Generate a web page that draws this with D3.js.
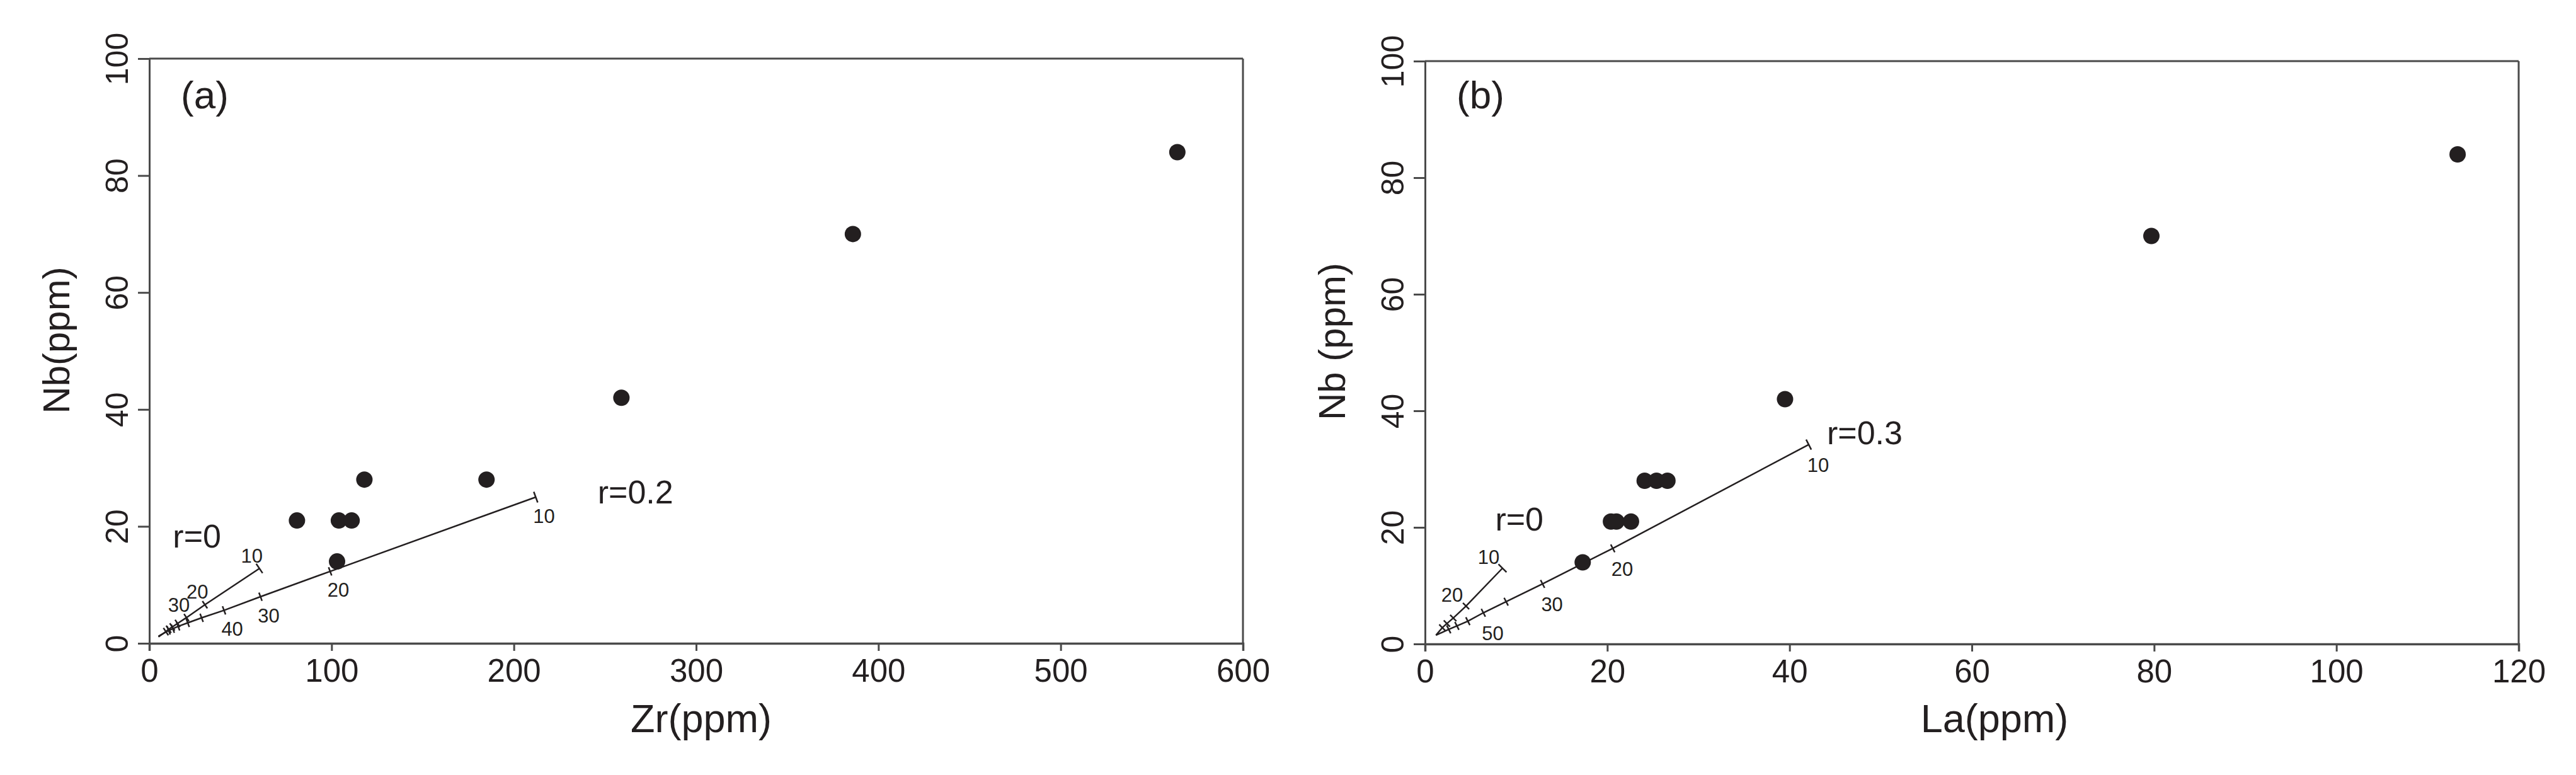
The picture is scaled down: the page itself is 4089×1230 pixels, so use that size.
<!DOCTYPE html>
<html><head><meta charset="utf-8">
<script src="https://cdn.jsdelivr.net/npm/d3@7"></script>
<style>
body{margin:0;background:#fff}
svg{display:block}
text{font-family:"Liberation Sans",Arial,Helvetica,sans-serif;fill:#231f20}
</style>
</head><body>
<svg id="chart" width="4089" height="1230"></svg>
<script>
// ---------- data ----------
const nbTicks = [0, 20, 40, 60, 80, 100];
const zrTicks = [0, 100, 200, 300, 400, 500, 600];
const laTicks = [0, 20, 40, 60, 80, 100, 120];

// panel (a) samples
const zrA = [564, 386, 259, 118, 185, 81, 104, 111, 103];
const nbA = [84, 70, 42, 28, 28, 21, 21, 21, 14];
// panel (b) samples
const laB = [113.3, 79.7, 39.5, 24.1, 25.4, 26.6, 20.4, 21.0, 22.6, 17.3];
const nbB = [84, 70, 42, 28, 28, 28, 21, 21, 21, 14];

// model curves, tick points (first point = 10 end cap, last = start)
const curveA_r0_x  = [60.4, 30.5, 20.4, 15.5, 12.6, 10.6, 9.1, 5.0];
const curveA_r0_y  = [12.8, 6.6, 4.4, 3.4, 2.8, 2.4, 2.0, 1.1];
const curveA_r0_lab = ["10", "20", "30"];
const curveA_r02_x = [212, 99.2, 61, 41, 28.7, 21.1, 15.8, 12.9, 10.6, 5.0];
const curveA_r02_y = [25.0, 12.3, 7.97, 5.64, 4.36, 3.5, 2.9, 2.5, 2.2, 1.2];
const curveA_r02_lab = ["10", "20", "30", "40"];

const curveB_r0_x  = [8.5, 4.5, 3.1, 2.4, 1.9, 1.2];
const curveB_r0_y  = [13.0, 6.5, 4.45, 3.5, 2.8, 1.5];
const curveB_r0_lab = ["10", "20"];
const curveB_r03_x = [42.1, 20.6, 12.9, 8.9, 6.4, 4.7, 3.5, 2.6, 1.2];
const curveB_r03_y = [34.2, 16.4, 10.3, 7.25, 5.35, 3.9, 3.1, 2.5, 1.5];
const curveB_r03_lab = ["10", "20", "30", "", "50"];

// ---------- layout ----------
const INK = "#231f20", AXIS = "#4a4a4a";
const svg = d3.select("#chart");

const panels = [
  {
    xDomain: [0, 600], xRange: [237, 1973], yRange: [1021, 93],
    xTicks: zrTicks, xs: zrA, ys: nbA,
    xTitle: "Zr(ppm)", xTitleX: 1113, yTitle: "Nb(ppm)", yTitleY: 540,
    tag: "(a)",
    curves: [
      {xs: curveA_r0_x, ys: curveA_r0_y, labs: curveA_r0_lab, off: [-12, -20]},
      {xs: curveA_r02_x, ys: curveA_r02_y, labs: curveA_r02_lab, off: [13, 30]}
    ],
    notes: [{t: "r=0", x: 12.9, y: 16.4}, {t: "r=0.2", x: 246, y: 23.9}]
  },
  {
    xDomain: [0, 120], xRange: [2262, 3998], yRange: [1022, 97],
    xTicks: laTicks, xs: laB, ys: nbB,
    xTitle: "La(ppm)", xTitleX: 3166, yTitle: "Nb (ppm)", yTitleY: 542,
    tag: "(b)",
    curves: [
      {xs: curveB_r0_x, ys: curveB_r0_y, labs: curveB_r0_lab, off: [-22, -17]},
      {xs: curveB_r03_x, ys: curveB_r03_y, labs: curveB_r03_lab, off: [15, 33]}
    ],
    notes: [{t: "r=0", x: 7.7, y: 19.5}, {t: "r=0.3", x: 44.1, y: 34.3}]
  }
];

panels.forEach(p => {
  const x = d3.scaleLinear().domain(p.xDomain).range(p.xRange);
  const y = d3.scaleLinear().domain([0, 100]).range(p.yRange);
  const g = svg.append("g");
  const [x0, x1] = p.xRange, [yb, yt] = p.yRange;

  // frame (top and right)
  g.append("line").attr("x1", x0).attr("x2", x1).attr("y1", yt).attr("y2", yt)
    .attr("stroke", AXIS).attr("stroke-width", 3);
  g.append("line").attr("x1", x1).attr("x2", x1).attr("y1", yt).attr("y2", yb)
    .attr("stroke", AXIS).attr("stroke-width", 3);

  // bottom axis
  const ax = g.append("g").attr("transform", `translate(0,${yb})`)
    .call(d3.axisBottom(x).tickValues(p.xTicks).tickSize(12).tickPadding(0).tickFormat(d3.format("d")));
  ax.select(".domain").attr("stroke", AXIS).attr("stroke-width", 3.5);
  ax.selectAll(".tick line").attr("stroke", AXIS).attr("stroke-width", 3);
  ax.selectAll(".tick text").attr("y", 61).attr("dy", 0)
    .attr("font-size", 51).attr("fill", INK);

  // left axis
  const ay = g.append("g").attr("transform", `translate(${x0},0)`)
    .call(d3.axisLeft(y).tickValues(nbTicks).tickSize(18).tickPadding(0).tickFormat(d3.format("d")));
  ay.select(".domain").attr("stroke", AXIS).attr("stroke-width", 3);
  ay.selectAll(".tick line").attr("stroke", AXIS).attr("stroke-width", 3);
  ay.selectAll(".tick text")
    .attr("x", null).attr("dy", null)
    .attr("transform", "translate(-34,0) rotate(-90)")
    .attr("text-anchor", "middle").attr("font-size", 50).attr("fill", INK);

  // titles
  g.append("text").attr("x", p.xTitleX).attr("y", 1162).attr("text-anchor", "middle")
    .attr("font-size", 63).text(p.xTitle);
  g.append("text").attr("transform", `translate(${x0 - 127},${p.yTitleY}) rotate(-90)`)
    .attr("text-anchor", "middle").attr("font-size", 60).text(p.yTitle);
  g.append("text").attr("x", x0 + 50).attr("y", 172).attr("font-size", 62).text(p.tag);

  // model curves
  p.curves.forEach(c => {
    const pts = c.xs.map((v, i) => [x(v), y(c.ys[i])]);
    g.append("path").attr("d", d3.line()(pts)).attr("fill", "none")
      .attr("stroke", INK).attr("stroke-width", 2.5);
    const a = pts[0], b = pts[pts.length - 1];
    const len = Math.hypot(a[0] - b[0], a[1] - b[1]);
    const nx = -(a[1] - b[1]) / len, ny = (a[0] - b[0]) / len;
    pts.slice(0, pts.length - 1).forEach((q, i) => {
      const h = i === 0 ? 9 : 7;
      g.append("line").attr("x1", q[0] - nx * h).attr("y1", q[1] - ny * h)
        .attr("x2", q[0] + nx * h).attr("y2", q[1] + ny * h)
        .attr("stroke", INK).attr("stroke-width", 2.5);
    });
    c.labs.forEach((t, i) => {
      if (!t) return;
      g.append("text").attr("x", pts[i][0] + c.off[0]).attr("y", pts[i][1] + c.off[1])
        .attr("text-anchor", "middle").attr("dominant-baseline", "central")
        .attr("font-size", 31).text(t);
    });
  });

  p.notes.forEach(n => {
    g.append("text").attr("x", x(n.x)).attr("y", y(n.y)).attr("font-size", 52).text(n.t);
  });

  // samples
  g.selectAll("circle.s").data(p.xs.map((v, i) => [v, p.ys[i]])).enter()
    .append("circle").attr("class", "s")
    .attr("cx", d => x(d[0])).attr("cy", d => y(d[1])).attr("r", 13).attr("fill", INK);
});
</script>
</body></html>
